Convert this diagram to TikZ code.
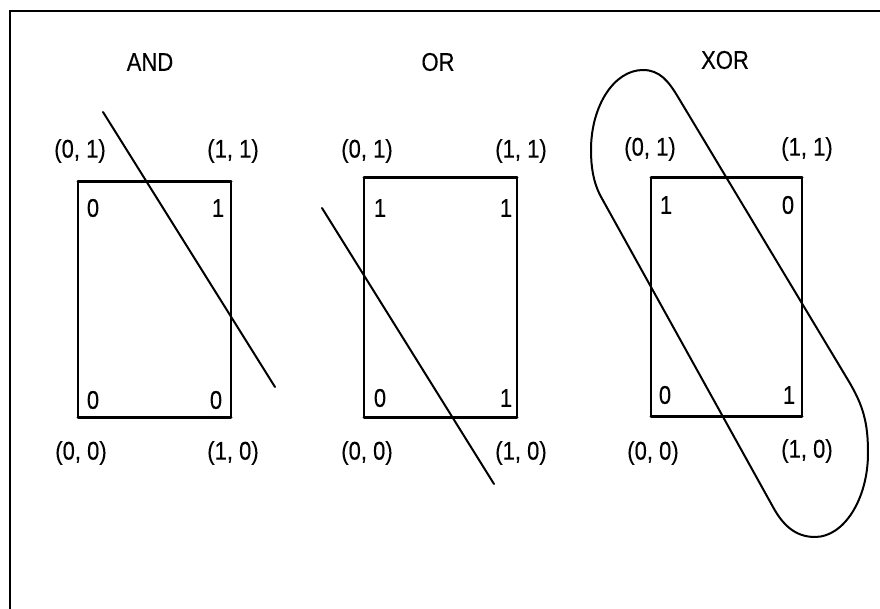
\documentclass[tikz,border=0pt]{standalone}
\usepackage{fontspec}
\setmainfont{Liberation Sans}[FakeStretch=0.86,FakeBold=0.2]
\begin{document}
\begin{tikzpicture}[x=0.5pt,y=-0.5pt,
  txt/.style={font=\fontsize{12.8}{15}\selectfont, inner sep=0pt},
  side/.style={line width=0.8pt},
  edge/.style={line width=1.5pt, line cap=round},
  sep/.style={line width=1pt, line cap=round}]
\useasboundingbox (0,0) rectangle (880,609);
\fill[white] (0,0) rectangle (880,609);

% outer frame (top and left edges)
\draw[line width=1.1pt] (10,609) -- (10,11) -- (880,11);

% the three unit squares
\foreach \n/\l/\t/\r/\b in {and/78/182/231/418, or/364/178/517/418, xor/651/178/802/417} {
  \coordinate (\n-nw) at (\l,\t);
  \coordinate (\n-ne) at (\r,\t);
  \coordinate (\n-sw) at (\l,\b);
  \coordinate (\n-se) at (\r,\b);
  \draw[side] (\n-nw) -- (\n-sw) (\n-ne) -- (\n-se);
  \draw[edge] (\n-nw) -- (\n-ne) (\n-sw) -- (\n-se);
}

% titles
\node[txt] (t-and) at (150,62) {AND};
\node[txt] (t-or)  at (438,62) {OR};
\node[txt] (t-xor) at (725,60) {XOR};

% corner coordinates
\node[txt] (and-l01) at (80,151)  {(0, 1)};
\node[txt] (and-l11) at (233,151) {(1, 1)};
\node[txt] (and-l00) at (81,453)  {(0, 0)};
\node[txt] (and-l10) at (233,453) {(1, 0)};
\node[txt] (or-l01)  at (367,151) {(0, 1)};
\node[txt] (or-l11)  at (521,151) {(1, 1)};
\node[txt] (or-l00)  at (367,453) {(0, 0)};
\node[txt] (or-l10)  at (521,453) {(1, 0)};
\node[txt] (xor-l01) at (650,149) {(0, 1)};
\node[txt] (xor-l11) at (807,149) {(1, 1)};
\node[txt] (xor-l00) at (653,453) {(0, 0)};
\node[txt] (xor-l10) at (807,451) {(1, 0)};

% truth values
\node[txt] (and-v01) at (93,208)  {0};
\node[txt] (and-v11) at (218,208) {1};
\node[txt] (and-v00) at (93,400)  {0};
\node[txt] (and-v10) at (216,400) {0};
\node[txt] (or-v01)  at (380,208) {1};
\node[txt] (or-v11)  at (506,208) {1};
\node[txt] (or-v00)  at (380,398) {0};
\node[txt] (or-v10)  at (506,398) {1};
\node[txt] (xor-v01) at (666,205) {1};
\node[txt] (xor-v11) at (788,205) {0};
\node[txt] (xor-v00) at (665,395) {0};
\node[txt] (xor-v10) at (789,395) {1};

% separating lines
\coordinate (and-a) at (103,112);
\coordinate (and-b) at (275,387);
\draw[sep] (and-a) -- (and-b);
\coordinate (or-a) at (322,208);
\coordinate (or-b) at (494,484);
\draw[sep] (or-a) -- (or-b);

% XOR region: elongated loop
\coordinate (p1) at (678,97);
\coordinate (p2) at (848,380);
\coordinate (pr) at (868,453);
\coordinate (pb) at (815,537);
\coordinate (p3) at (773,507);
\coordinate (p4) at (600,195);
\coordinate (pl) at (591,150);
\coordinate (pt) at (643,70);
\draw[sep]
  (p1) -- (p2)
  .. controls (863.5,405.7) and (868,423) .. (pr)
  .. controls (868,499) and (844,537) .. (pb)
  .. controls (795,537) and (782.6,524.6) .. (p3)
  -- (p4)
  .. controls (593,181) and (591,166) .. (pl)
  .. controls (591,106) and (614,70) .. (pt)
  .. controls (660,70) and (668.7,81.6) .. (p1) -- cycle;
\end{tikzpicture}
\end{document}
